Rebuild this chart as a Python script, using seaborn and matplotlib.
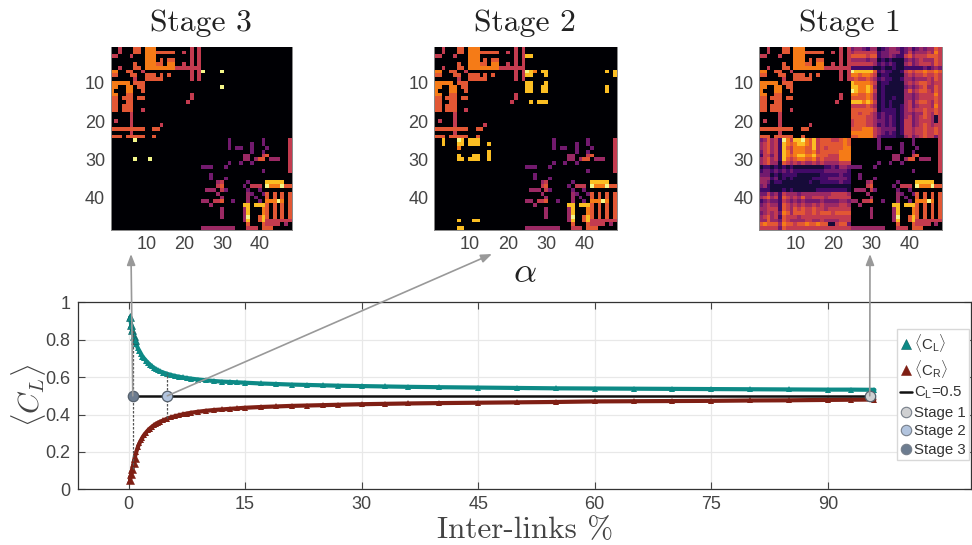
import numpy as np
import matplotlib
matplotlib.use("Agg")
import matplotlib.pyplot as plt
from matplotlib.lines import Line2D
import seaborn as sns

W, H = 972, 545
STAGE_TITLES = ["Stage 3", "Stage 2", "Stage 1"]
MATRIX_TICKS = [10, 20, 30, 40]
LEVELS = [0.0, 0.1, 0.2, 0.32, 0.42, 0.52, 0.62, 0.71, 0.85, 0.97]

TL = [
"005000660777000000000505",
"005000660777666660050505",
"550005000777000000000505",
"000000000777060660000505",
"000000600777660770050505",
"005000660777777775555555",
"770066005000000000000505",
"660006600666060600000505",
"000000500666660000000505",
"777770666000000000000000",
"770077066000000000000000",
"700077006000000000000000",
"770066000000000000000500",
"660666066000000000000500",
"660066000000000000005000",
"660666000000000000000000",
"660666005000000000000000",
"000005000000000000000000",
"000005000000000000000000",
"050005000000000000000000",
"000005000000050000000000",
"666666666006600000000000",
"000005000000000000000000",
"666066666006000000000000",
]
BR = [
"000000030000000030000005",
"000000030000030030000005",
"000000030330030003000005",
"000000000000030030000005",
"000000000004400056000005",
"000000000004404660444005",
"000000030030030000000005",
"333000300000000000000005",
"000000000000000030000005",
"003000000000000000000000",
"003000300000000000000000",
"000045000000300008888800",
"000056000003055509777966",
"044405300000300300000000",
"000040000000430036060606",
"000004000000403006060606",
"440556003000400307779706",
"004000000008808886060606",
"000004000004800076060606",
"000004000004800076060606",
"000004000004900686060606",
"000000000004800685555555",
"000000000000600065555040",
"444444444000555066600000",
]
# upper-right block of the inter-community part, one string per row
STAGE1_TR = [
"344324412344323423434465",
"455555523344423534445475",
"666656623343225645556665",
"444434412121113434544465",
"555555423232114534555465",
"222222112112112222232343",
"988888623221125656676676",
"776776512211114545565565",
"565565423221124434445465",
"877776512211114545665455",
"887787412111113434564465",
"987787512111114645665465",
"776676412111114434555575",
"666676412112114434555565",
"888787512121114535665465",
"555565412121124534555475",
"666666512222124545565565",
"665665423222124434465465",
"666655423232124534565415",
"566655433232125534555415",
"566655423232125534565455",
"666777543333125545565565",
"777777543232125545565565",
"667777532222114534565535",
]
STAGE2_TR = [
"000000000000000000000000",
"000000000000000000000000",
"880000000000000000000000",
"000000000000000000000000",
"000000000000000000000000",
"000000000000000000000000",
"987088000000000000000808",
"880008000000000000000008",
"000000000000000000000000",
"880008000000000000000000",
"880088000000000000000800",
"880088000000000000000800",
"000000000000000000000000",
"000000000000000000000000",
"080888000000000000000000",
"000000000000000000000000",
"000000000000000000000000",
"000000000000000000000000",
"000000000000000000000000",
"000000000000000000000000",
"000000000000000000000000",
"000000000000000000000000",
"000000000000000000000000",
"000000000000000000000000",
]
STAGE3_TR = [
"000000000000000000000000",
"000000000000000000000000",
"000000000000000000000000",
"000000000000000000000000",
"000000000000000000000000",
"000000000000000000000000",
"900009000000000000000000",
"000000000000000000000000",
"000000000000000000000000",
"000000000000000000000000",
"000009000000000000000000",
"000000000000000000000000",
"000000000000000000000000",
"000000000000000000000000",
"000000000000000000000000",
"000000000000000000000000",
"000000000000000000000000",
"000000000000000000000000",
"000000000000000000000000",
"000000000000000000000000",
"000000000000000000000000",
"000000000000000000000000",
"000000000000000000000000",
"000000000000000000000000",
]

links = [0.2,0.35,0.5,0.65,0.8,1,1.2,1.4,1.6,1.8,2,2.25,2.5,2.75,3,3.25,3.5,3.75,4,4.5,
         5,5.5,6,6.5,7,7.5,8,9,10,11,12,13,14,15,17,19,21,23,25,27,30,33,36,40,45,50,55,
         60,65,70,75,80,85,90,93,96]
c_left = [.92,.88,.85,.82,.80,.775,.755,.74,.725,.71,.70,.688,.677,.667,.658,.65,.643,.637,.632,.624,
          .617,.611,.606,.602,.598,.595,.592,.587,.583,.579,.576,.574,.572,.57,.566,.563,.56,.558,.556,
          .554,.552,.55,.548,.546,.544,.542,.54,.539,.538,.537,.536,.535,.534,.533,.533,.532]
c_right = [.05,.08,.11,.14,.17,.20,.225,.245,.262,.277,.29,.303,.315,.325,.334,.342,.349,.355,.36,.369,
           .378,.385,.391,.396,.401,.405,.409,.415,.42,.424,.427,.43,.433,.436,.44,.443,.446,.448,.45,
           .452,.455,.457,.459,.461,.463,.465,.467,.47,.471,.472,.473,.475,.476,.478,.479,.48]
stage_x = [95.4, 5.0, 0.55]
stage_names = ["Stage 1", "Stage 2", "Stage 3"]
stage_colors = ["#cfd0d2", "#b2c4de", "#6c7c90"]
x_ticks = [0, 15, 30, 45, 60, 75, 90]
y_ticks = [0, 0.2, 0.4, 0.6, 0.8, 1]
y_tick_labels = ["0", "0.2", "0.4", "0.6", "0.8", "1"]

sns.set_style("white")
plt.rcParams["font.family"] = ["Liberation Sans", "DejaVu Sans"]
plt.rcParams["mathtext.fontset"] = "custom"
plt.rcParams["mathtext.rm"] = "Liberation Sans"
plt.rcParams["mathtext.it"] = "Liberation Sans:italic"
plt.rcParams["mathtext.fallback"] = "cm"

TC = "#444444"
fig = plt.figure(figsize=(W / 100, H / 100), dpi=100)


def px_axes(l, t, r, b):
    return fig.add_axes([l / W, 1 - b / H, (r - l) / W, (b - t) / H])


def digits(rows):
    table = np.array(LEVELS)
    return table[np.array([[int(c) for c in row] for row in rows])]


def build(tr_rows):
    tr = digits(tr_rows)
    return np.block([[digits(TL), tr], [tr.T, digits(BR)]])


panels = [(110.7, 291.7, STAGE3_TR, 201), (434, 616.7, STAGE2_TR, 525), (759, 942, STAGE1_TR, 850)]
for (l, r, tr, cx), title in zip(panels, STAGE_TITLES):
    ax = px_axes(l, 46.7, r, 230)
    sns.heatmap(build(tr), ax=ax, cmap="inferno", vmin=0, vmax=1, cbar=False,
                xticklabels=False, yticklabels=False)
    pos = [t - 0.5 for t in MATRIX_TICKS]
    ax.set_xticks(pos, [str(t) for t in MATRIX_TICKS])
    ax.set_yticks(pos, [str(t) for t in MATRIX_TICKS], rotation=0)
    ax.tick_params(length=2, width=0.7, color="#777777", labelsize=13, labelcolor=TC, direction="in", pad=4)
    for s in ax.spines.values():
        s.set_visible(True)
        s.set_color("#888888")
        s.set_linewidth(0.7)
    ax.spines["top"].set_visible(False)
    fig.text(cx / W, 1 - 23 / H, title, ha="center", va="center", fontsize=22.8, family="cmr10", color="#222222")

fig.text(525 / W, 1 - 273 / H, r"$\alpha$", ha="center", va="center", fontsize=26, math_fontfamily="cm", color="#222222")

ax = px_axes(77.5, 302.3, 970.5, 489.3)
ax.set_xlim((77.5 - 128.5) / 7.77, (970.5 - 128.5) / 7.77)
ax.set_ylim(0, 1)
ax.grid(True, color="#e8e8e8", lw=0.9)
ax.set_axisbelow(True)
ax.set_xticks(x_ticks, [str(v) for v in x_ticks])
ax.set_yticks(y_ticks, y_tick_labels)
ax.tick_params(direction="in", length=5, width=0.8, color="#444444", labelsize=13, labelcolor=TC,
               top=True, right=True, bottom=True, left=True, pad=5)
for s in ax.spines.values():
    s.set_visible(True)
    s.set_color("#333333")
    s.set_linewidth(0.9)

for sx, sy0, sy1 in [(0.55, c_right[2], c_left[2]), (5.0, 0.38, 0.62), (95.4, 0.48, 0.53)]:
    ax.plot([sx, sx], [sy0, sy1], color="#555555", lw=0.9, ls=(0, (2, 1.2)), zorder=5)

teal, maroon = "#0d8a86", "#7f1f14"
sns.lineplot(x=links, y=c_left, ax=ax, color=teal, lw=3, marker="^", ms=4, mec=teal, mew=0,
             legend=False, zorder=3, errorbar=None, sort=False)
sns.lineplot(x=links, y=c_right, ax=ax, color=maroon, lw=3, marker="^", ms=4, mec=maroon, mew=0,
             legend=False, zorder=3, errorbar=None, sort=False)
ax.plot(links[:5], c_left[:5], ls="", marker="^", ms=5.5, mfc=teal, mec="#0a5f60", mew=0.4, zorder=3)
ax.plot(links[:5], c_right[:5], ls="", marker="^", ms=5.5, mfc=maroon, mec=maroon, mew=0.4, zorder=3)
ax.plot([stage_x[2], stage_x[0]], [0.5, 0.5], color="#111111", lw=1.8, zorder=4)
for sx, c in zip(stage_x, stage_colors):
    ax.plot([sx], [0.5], "o", ms=7.5, mfc=c, mec="#55606c", mew=0.9, zorder=6)

for sx, (tx, ty) in zip(stage_x, [(870, 254), (492, 254), (131, 254)]):
    ax.annotate("", xy=(tx / W, 1 - ty / H), xycoords="figure fraction", xytext=(sx, 0.5), textcoords="data",
                arrowprops=dict(arrowstyle="-|>,head_width=0.25,head_length=0.65", color="#999999", lw=1.2,
                                shrinkA=0, shrinkB=0), zorder=7, annotation_clip=False)

fig.text(525 / W, 1 - 530 / H, "Inter-links %", ha="center", va="center", fontsize=22.4, family="cmr10", color="#444444")
fig.text(28 / W, 1 - 395 / H, r"$\langle C_L\rangle$", ha="center", va="center", rotation=90, fontsize=21,
         math_fontfamily="cm", color="#444444")

handles = [
    Line2D([], [], ls="", marker="^", ms=7, mfc=teal, mec="#0a5f60", mew=0.4),
    Line2D([], [], ls="", marker="^", ms=7, mfc=maroon, mec=maroon, mew=0.4),
    Line2D([], [], color="#111111", lw=1.8),
] + [Line2D([], [], ls="", marker="o", ms=7.5, mfc=c, mec="#777f8a", mew=0.8) for c in stage_colors]
labels = [r"$\langle\mathrm{C_L}\rangle$", r"$\langle\mathrm{C_R}\rangle$", r"$\mathrm{C_L}$=0.5"] + stage_names
leg = fig.legend(handles, labels, loc="upper right", bbox_to_anchor=(968.5 / W, 1 - 329 / H), fontsize=10.8,
                 frameon=True, fancybox=False, framealpha=1, edgecolor="#d8d8d8", borderpad=0.2,
                 labelspacing=0.3, handlelength=0.75, handletextpad=0.15, borderaxespad=0, labelcolor="#333333")
leg.get_frame().set_linewidth(1)

fig.savefig("out.png", dpi=100)
